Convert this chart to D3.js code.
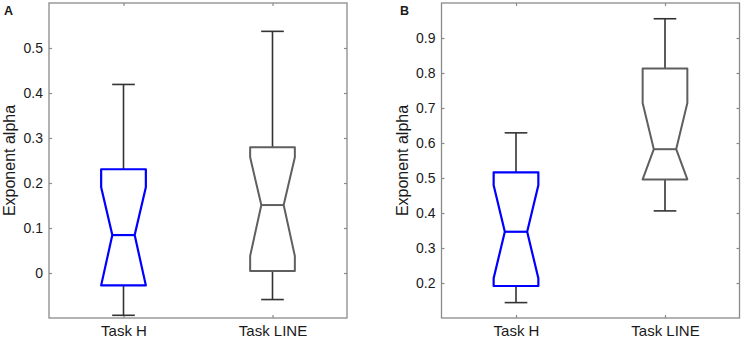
<!DOCTYPE html>
<html>
<head>
<meta charset="utf-8">
<script src="https://cdn.jsdelivr.net/npm/d3@7"></script>
<style>
  body { margin: 0; background: #fff; }
  text { font-family: "Liberation Sans", Arial, sans-serif; fill: #1a1a1a; }
</style>
</head>
<body>
<div id="chart"></div>
<script>
// categories and tick labels
const tasks = ["Task H", "Task LINE"];
const panelNames = ["A", "B"];
const ticksA = [0, 0.1, 0.2, 0.3, 0.4, 0.5];
const ticksB = [0.2, 0.3, 0.4, 0.5, 0.6, 0.7, 0.8, 0.9];
const domainA = [-0.1, 0.6];
const domainB = [0.1, 1.0];

// panel A box stats (Task H, Task LINE)
const whiskLoA = [-0.094, -0.059];
const q1A = [-0.0275, 0.0044];
const notchLoA = [-0.0275, 0.038];
const medianA = [0.0843, 0.151];
const notchHiA = [0.1907, 0.257];
const q3A = [0.2306, 0.2794];
const whiskHiA = [0.419, 0.537];

// panel B box stats (Task H, Task LINE)
const whiskLoB = [0.144, 0.406];
const q1B = [0.1914, 0.4959];
const notchLoB = [0.2134, 0.4959];
const medianB = [0.3464, 0.5823];
const notchHiB = [0.4796, 0.7144];
const q3B = [0.5158, 0.8126];
const whiskHiB = [0.629, 0.955];

const boxColors = ["#0000ff", "#5f5f5f"];

const W = 743, H = 338;
const plotW = 298, plotTop = 3, plotBottom = 318;

const svg = d3.select("#chart").append("svg")
  .attr("width", W)
  .attr("height", H);

function drawPanel(left, letter, letterX, domain, ticks, st) {
  const g = svg.append("g").attr("transform", `translate(${left},0)`);

  const x = d3.scaleLinear().domain([0.5, 2.5]).range([0, plotW]);
  const y = d3.scaleLinear().domain(domain).range([plotBottom, plotTop]);
  const fmt = d => d === 0 ? "0" : d3.format(".1f")(d);

  // axes: ticks pointing inwards on all four sides
  const yl = g.append("g")
    .call(d3.axisLeft(y).tickValues(ticks).tickSize(-3).tickPadding(6).tickFormat(fmt));
  yl.selectAll("text").style("font-size", "14px");
  g.append("g").attr("transform", `translate(${plotW},0)`)
    .call(d3.axisRight(y).tickValues(ticks).tickSize(-3).tickFormat(""));
  const xb = g.append("g").attr("transform", `translate(0,${plotBottom})`)
    .call(d3.axisBottom(x).tickValues([1, 2]).tickSize(-3).tickPadding(7).tickFormat((d, i) => tasks[i]));
  xb.selectAll("text").style("font-size", "15px");
  g.append("g").attr("transform", `translate(0,${plotTop})`)
    .call(d3.axisTop(x).tickValues([1, 2]).tickSize(-3).tickFormat(""));
  g.selectAll(".domain").remove();
  g.selectAll(".tick line").attr("stroke", "#8a8a8a").attr("stroke-width", 1.2);

  g.append("rect")
    .attr("x", x(0.5)).attr("y", plotTop)
    .attr("width", plotW).attr("height", plotBottom - plotTop)
    .attr("fill", "none").attr("stroke", "#8a8a8a").attr("stroke-width", 1.3);

  const bw = 0.15, nw = 0.075, cw = 0.076;
  const line = d3.line();

  tasks.forEach((t, i) => {
    const c = i + 1;
    // whiskers
    const wg = g.append("g").attr("stroke", "#333").attr("stroke-width", 1.6).attr("fill", "none");
    wg.append("line").attr("x1", x(c)).attr("x2", x(c)).attr("y1", y(st.q3[i])).attr("y2", y(st.hi[i]));
    wg.append("line").attr("x1", x(c)).attr("x2", x(c)).attr("y1", y(st.q1[i])).attr("y2", y(st.lo[i]));
    wg.append("line").attr("x1", x(c - cw)).attr("x2", x(c + cw)).attr("y1", y(st.hi[i])).attr("y2", y(st.hi[i]));
    wg.append("line").attr("x1", x(c - cw)).attr("x2", x(c + cw)).attr("y1", y(st.lo[i])).attr("y2", y(st.lo[i]));

    // notched box
    const pts = [
      [c - bw, st.q3[i]], [c + bw, st.q3[i]], [c + bw, st.nhi[i]], [c + nw, st.med[i]],
      [c + bw, st.nlo[i]], [c + bw, st.q1[i]], [c - bw, st.q1[i]], [c - bw, st.nlo[i]],
      [c - nw, st.med[i]], [c - bw, st.nhi[i]]
    ].map(p => [x(p[0]), y(p[1])]);
    g.append("path")
      .attr("d", line(pts) + "Z")
      .attr("fill", "none")
      .attr("stroke", boxColors[i])
      .attr("stroke-width", i === 0 ? 2.2 : 2)
      .attr("stroke-linejoin", "round");
    g.append("line")
      .attr("x1", x(c - nw)).attr("x2", x(c + nw))
      .attr("y1", y(st.med[i])).attr("y2", y(st.med[i]))
      .attr("stroke", boxColors[i]).attr("stroke-width", i === 0 ? 2.2 : 2);
  });

  // y label
  g.append("text")
    .attr("transform", `translate(-34,${(plotTop + plotBottom) / 2}) rotate(-90)`)
    .attr("text-anchor", "middle")
    .style("font-size", "16px")
    .text("Exponent alpha");

  // panel letter
  g.append("text")
    .attr("x", letterX).attr("y", 15)
    .style("font-size", "12.5px").style("font-weight", "bold")
    .text(letter);
}

drawPanel(49, panelNames[0], -45, domainA, ticksA,
  {lo: whiskLoA, q1: q1A, nlo: notchLoA, med: medianA, nhi: notchHiA, q3: q3A, hi: whiskHiA});
drawPanel(441.5, panelNames[1], -41.5, domainB, ticksB,
  {lo: whiskLoB, q1: q1B, nlo: notchLoB, med: medianB, nhi: notchHiB, q3: q3B, hi: whiskHiB});
</script>
</body>
</html>
